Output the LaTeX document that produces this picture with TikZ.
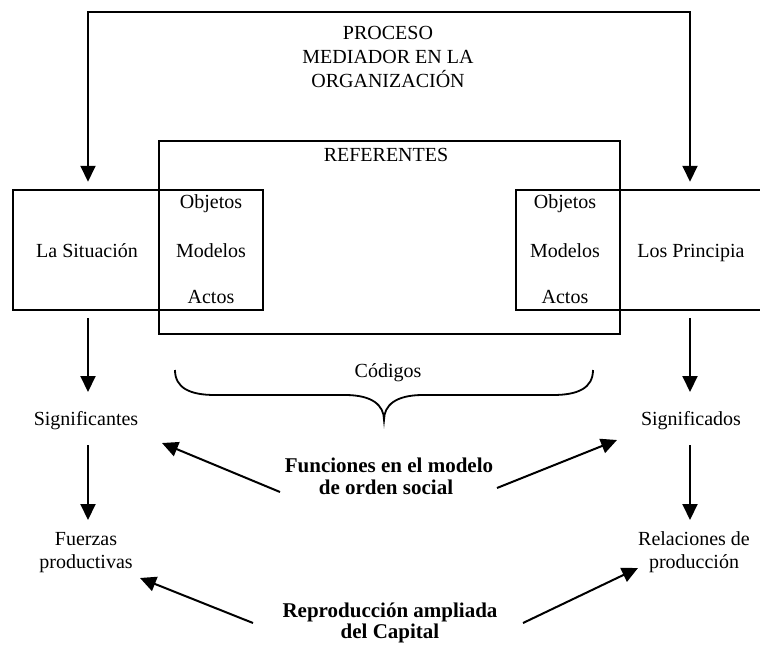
\documentclass[tikz,border=0pt]{standalone}
\usepackage{fontspec}
\setmainfont{Liberation Serif}
\usetikzlibrary{arrows.meta}
\begin{document}
\begin{tikzpicture}[x=1pt,y=-1pt,
  txt/.style={anchor=base, inner sep=0pt, font=\fontsize{20}{24}\selectfont},
  btxt/.style={anchor=base, inner sep=0pt, font=\fontsize{21}{24}\selectfont\bfseries},
  boxn/.style={draw, line width=2.5pt, inner sep=0pt},
  arr/.style={line width=2pt, -{Triangle[length=16pt,width=15pt]}},
  conn/.style={line width=2pt}]
\clip (0,0) rectangle (760,646);
% boxes
\node[boxn, minimum width=250pt, minimum height=120pt] (sit) at (138,250) {};
\node[boxn, minimum width=250pt, minimum height=120pt] (pri) at (641,250) {};
\node[boxn, minimum width=461pt, minimum height=193pt] (ref) at (389.5,237.5) {};
% texts
\node[txt] (proc1) at (388,39) {PROCESO};
\node[txt] (proc2) at (388,63) {MEDIADOR EN LA};
\node[txt] (proc3) at (388,87) {ORGANIZACIÓN};
\node[txt] (reft) at (386,161) {REFERENTES};
\node[txt] (sitt) at (87,257) {La Situación};
\node[txt] (lobj) at (211,208) {Objetos};
\node[txt] (lmod) at (211,257) {Modelos};
\node[txt] (lact) at (211,303) {Actos};
\node[txt] (robj) at (565,208) {Objetos};
\node[txt] (rmod) at (565,257) {Modelos};
\node[txt] (ract) at (565,303) {Actos};
\node[txt] (prit) at (691,257) {Los Principia};
\node[txt] (cod) at (388,377) {Códigos};
\node[txt] (sig) at (86,425) {Significantes};
\node[txt] (sdo) at (691,425) {Significados};
\node[txt] (fue1) at (86,545) {Fuerzas};
\node[txt] (fue2) at (86,568) {productivas};
\node[txt] (rel1) at (694,545) {Relaciones de};
\node[txt] (rel2) at (694,568) {producción};
\node[btxt] (fun1) at (389,472) {Funciones en el modelo};
\node[btxt] (fun2) at (386,494) {de orden social};
\node[btxt] (rep1) at (390,617) {Reproducción ampliada};
\node[btxt] (rep2) at (390,638) {del Capital};
% top connector
\coordinate (tl) at (88,12);
\coordinate (tr) at (690,12);
\draw[line width=2pt, {Triangle[length=16pt,width=15pt]}-{Triangle[length=16pt,width=15pt]}, shorten <=7pt, shorten >=7pt]
  (tl |- sit.north) -- (tl) -- (tr) -- (tr |- pri.north);
% vertical arrows
\coordinate (s1a) at (88,318); \coordinate (s1b) at (88,392);
\coordinate (s2a) at (88,445); \coordinate (s2b) at (88,520);
\coordinate (r1a) at (690,318); \coordinate (r1b) at (690,392);
\coordinate (r2a) at (690,445); \coordinate (r2b) at (690,520);
\draw[arr] (s1a) -- (s1b);
\draw[arr] (s2a) -- (s2b);
\draw[arr] (r1a) -- (r1b);
\draw[arr] (r2a) -- (r2b);
% diagonal arrows
\coordinate (f1a) at (280,492); \coordinate (f1b) at (162,443);
\coordinate (f2a) at (497,488); \coordinate (f2b) at (617,440);
\coordinate (g1a) at (253,623); \coordinate (g1b) at (140,578);
\coordinate (g2a) at (523,623); \coordinate (g2b) at (638,568);
\draw[arr] (f1a) -- (f1b);
\draw[arr] (f2a) -- (f2b);
\draw[arr] (g1a) -- (g1b);
\draw[arr] (g2a) -- (g2b);
% brace
\draw[line width=1.8pt] (175,370) .. controls (175,388) and (190,395) .. (215,395) -- (345,395)
  .. controls (372,395) and (384,405) .. (384,420)
  .. controls (384,405) and (396,395) .. (423,395) -- (553,395)
  .. controls (578,395) and (593,388) .. (593,370);
\end{tikzpicture}
\end{document}
